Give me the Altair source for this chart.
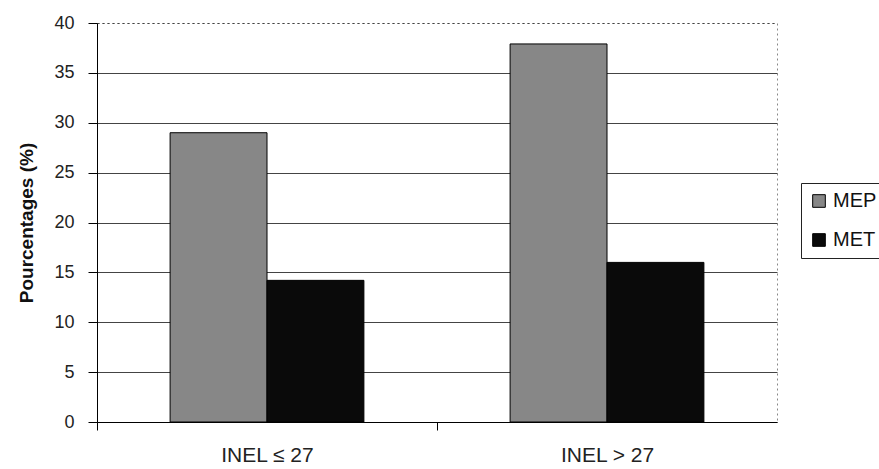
import altair as alt
import pandas as pd

# Bar heights per INEL group and per series
categories = ["INEL ≤ 27", "INEL > 27"]
series = ["MEP", "MET"]
mep_values = [29.0, 37.9]
met_values = [14.2, 16.0]

rows = []
for i, cat in enumerate(categories):
    rows.append({"groupe": cat, "serie": "MEP", "pct": mep_values[i]})
    rows.append({"groupe": cat, "serie": "MET", "pct": met_values[i]})
df = pd.DataFrame(rows)

FONT = "Liberation Sans"

bars = alt.Chart(df).mark_bar(stroke="black", strokeWidth=1).encode(
    x=alt.X(
        "groupe:N",
        sort=categories,
        title=None,
        scale=alt.Scale(paddingInner=0.43, paddingOuter=0.215),
        axis=alt.Axis(
            labelAngle=0,
            labelFont=FONT,
            labelFontSize=21,
            labelColor="#222",
            labelPadding=14,
            labelOffset=170,
            domainColor="black",
            tickColor="black",
            tickSize=8,
            tickOffset=-170,
            grid=False,
        ),
    ),
    xOffset=alt.XOffset("serie:N", sort=series),
    y=alt.Y(
        "pct:Q",
        title="Pourcentages (%)",
        scale=alt.Scale(domain=[0, 40], nice=False),
        axis=alt.Axis(
            values=[0, 5, 10, 15, 20, 25, 30, 35, 40],
            labelFont=FONT,
            labelFontSize=18,
            labelColor="#222",
            labelPadding=14,
            domainColor="black",
            tickColor="black",
            tickSize=9,
            grid=True,
            gridColor="#444",
            gridWidth=1,
            gridDash={"condition": {"test": "datum.value === 40", "value": [2, 3]}, "value": []},
            titleFont=FONT,
            titleFontSize=19,
            titleFontWeight="bold",
            titleColor="#111",
            titlePadding=17,
        ),
    ),
    color=alt.Color(
        "serie:N",
        sort=series,
        scale=alt.Scale(domain=series, range=["#878787", "#0a0a0a"]),
        legend=alt.Legend(
            title=None,
            orient="none",
            legendX=704,
            legendY=160,
            symbolType="square",
            symbolSize=160,
            symbolStrokeColor="black",
            symbolStrokeWidth=1,
            labelFont=FONT,
            labelFontSize=20,
            labelColor="#111",
            labelOffset=4,
            rowPadding=19,
            padding=8,
            strokeColor="#222",
        ),
    ),
)

chart = bars.properties(
    width=680,
    height=399,
    autosize=alt.AutoSizeParams(type="none"),
    padding={"left": 97, "top": 23, "right": 102, "bottom": 47},
    background="white",
).configure_view(
    stroke="#888",
    strokeDash=[2, 3],
)

chart.save("out.html", embed_options={"renderer": "svg", "actions": False})
